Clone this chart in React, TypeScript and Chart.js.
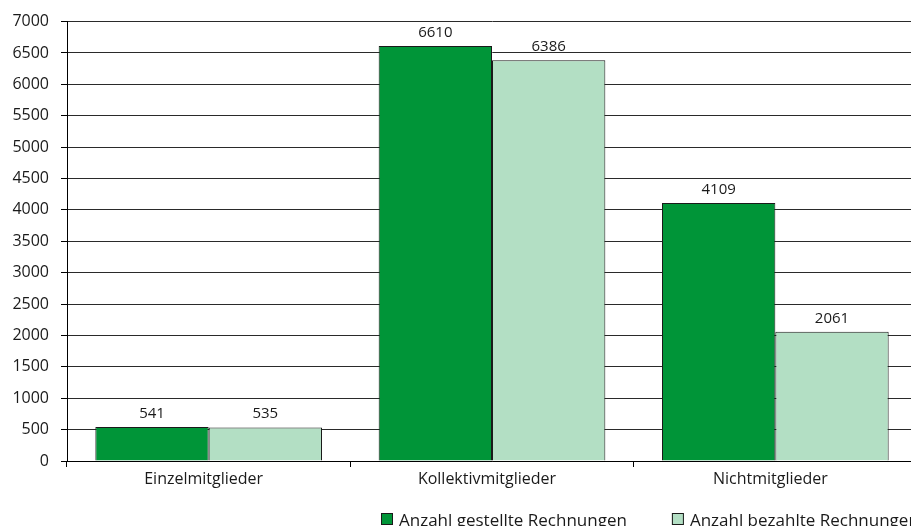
import React, { useEffect, useRef } from "react";
import { Chart, registerables } from "chart.js";

Chart.register(...registerables);

const categories = ["Einzelmitglieder", "Kollektivmitglieder", "Nichtmitglieder"];
const seriesNames = ["Anzahl gestellte Rechnungen", "Anzahl bezahlte Rechnungen"];
const gestellt = [541, 6610, 4109];
const bezahlt = [535, 6386, 2061];
const yMin = 0;
const yMax = 7000;
const yStep = 500;

const FONT = '"Open Sans", "Noto Sans", sans-serif';
const TEXT = "#1a1a1a";

// Writes each bar's value above its top edge.
const valueLabels = {
  id: "valueLabels",
  afterDatasetsDraw(chart: any) {
    const ctx = chart.ctx;
    ctx.save();
    ctx.font = `15px ${FONT}`;
    ctx.fillStyle = TEXT;
    ctx.textAlign = "center";
    ctx.textBaseline = "alphabetic";
    chart.data.datasets.forEach((ds: any, i: number) => {
      const meta = chart.getDatasetMeta(i);
      meta.data.forEach((el: any, j: number) => {
        ctx.fillText(String(ds.data[j]), el.x, el.y - 9);
      });
    });
    ctx.restore();
  },
};

// Legend row under the category axis: a bordered swatch followed by the series name,
// with a wide gap between entries.
const bottomLegend = {
  id: "bottomLegend",
  afterDraw(chart: any) {
    const ctx = chart.ctx;
    const xScale = chart.scales.x;
    const box = 12;
    const textGap = 6;
    const itemGap = 45;
    let x = chart.chartArea.left + 314;
    const top = xScale.bottom + 12;
    ctx.save();
    ctx.font = `17px ${FONT}`;
    ctx.textAlign = "left";
    ctx.textBaseline = "alphabetic";
    chart.data.datasets.forEach((ds: any) => {
      ctx.fillStyle = ds.backgroundColor;
      ctx.fillRect(x, top, box, box);
      ctx.strokeStyle = ds.borderColor;
      ctx.lineWidth = 1;
      ctx.strokeRect(x + 0.5, top + 0.5, box - 1, box - 1);
      ctx.fillStyle = TEXT;
      const tx = x + box + textGap;
      ctx.fillText(ds.label, tx, top + 12.5);
      x = tx + ctx.measureText(ds.label).width + itemGap;
    });
    ctx.restore();
  },
};

export default function App() {
  const canvasRef = useRef<HTMLCanvasElement | null>(null);

  useEffect(() => {
    if (!canvasRef.current) return;
    const chart = new Chart(canvasRef.current, {
      type: "bar",
      data: {
        labels: categories,
        datasets: [
          {
            label: seriesNames[0],
            data: gestellt,
            backgroundColor: "#009538",
            borderColor: "#1a1a1a",
            borderWidth: 1,
            categoryPercentage: 0.8,
            barPercentage: 1.0,
          },
          {
            label: seriesNames[1],
            data: bezahlt,
            backgroundColor: "#b3dfc4",
            borderColor: "#1a1a1a",
            borderWidth: 1,
            categoryPercentage: 0.8,
            barPercentage: 1.0,
          },
        ],
      },
      options: {
        responsive: false,
        animation: false,
        devicePixelRatio: 1,
        layout: { padding: { top: 19, left: 0, right: 0, bottom: 25 } },
        plugins: {
          tooltip: { enabled: false },
          legend: { display: false },
        },
        scales: {
          x: {
            grid: {
              offset: true,
              drawOnChartArea: false,
              tickLength: 6,
              color: "#000",
            },
            border: { color: "#000", width: 1 },
            ticks: {
              color: TEXT,
              font: { family: FONT, size: 16 },
              padding: 3,
              labelOffset: -5,
            },
            afterFit(scale: any) {
              scale.height = 40;
            },
          },
          y: {
            min: yMin,
            max: yMax,
            ticks: {
              stepSize: yStep,
              color: TEXT,
              font: { family: FONT, size: 16 },
              padding: 12,
              callback: (v: any) => String(v),
            },
            grid: { color: "#2a2a2a", lineWidth: 1, tickLength: 6, tickColor: "#000" },
            border: { color: "#000", width: 1 },
            afterFit(scale: any) {
              scale.width = 67;
            },
          },
        },
      },
      plugins: [valueLabels, bottomLegend],
    });
    return () => chart.destroy();
  }, []);

  return (
    <div
      style={{
        position: "fixed",
        left: 0,
        top: 0,
        width: 911,
        height: 526,
        overflow: "hidden",
        background: "#fff",
      }}
    >
      <canvas ref={canvasRef} width={917} height={526} style={{ display: "block" }} />
    </div>
  );
}
